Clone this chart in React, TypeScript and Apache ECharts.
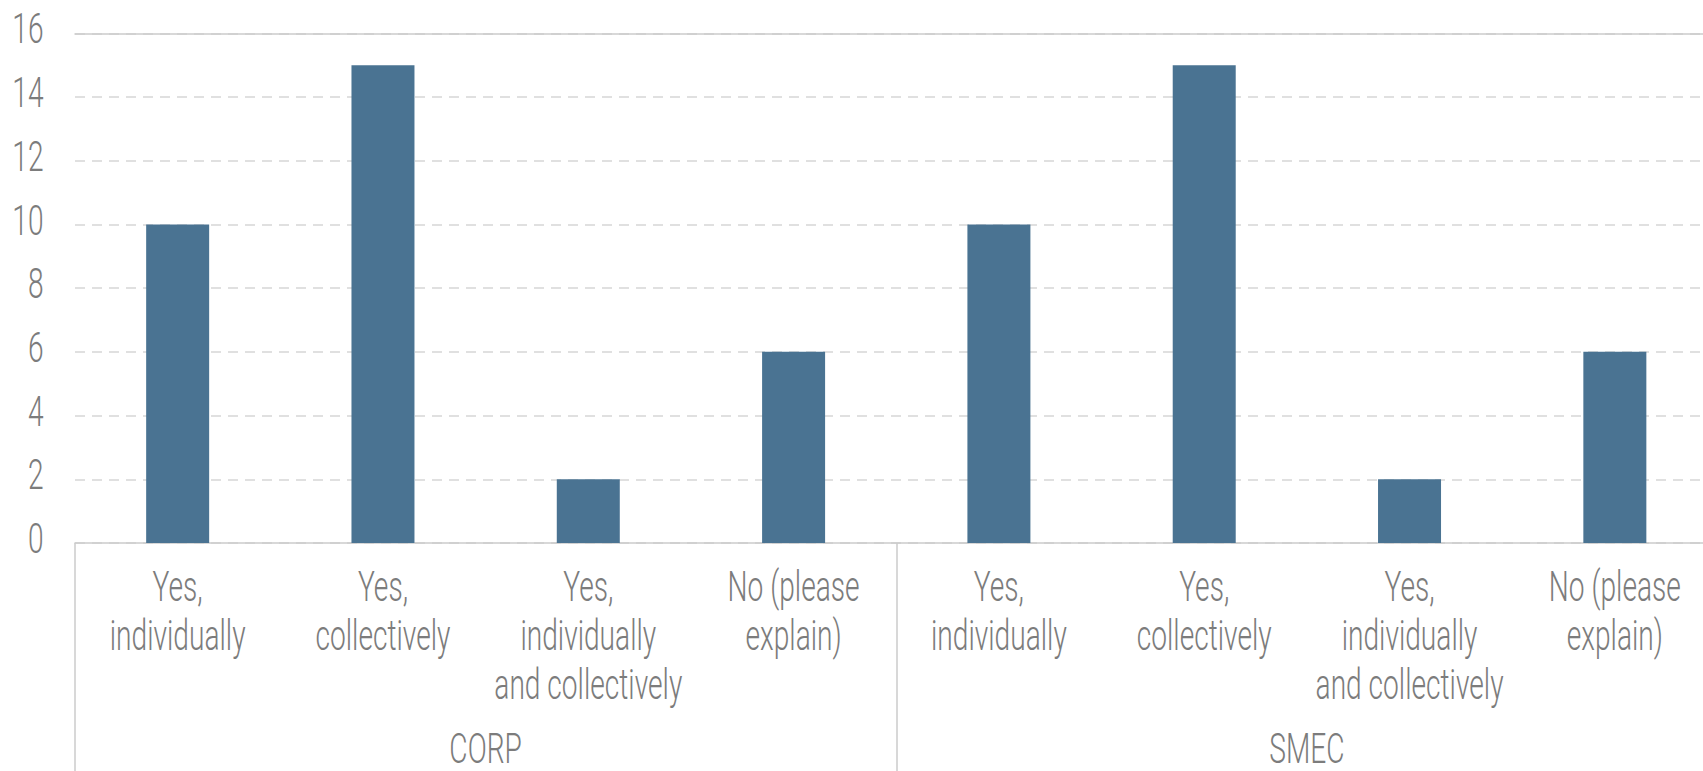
import React, { useEffect, useRef } from "react";
import * as echarts from "echarts";

const categories = [
  "Yes,\nindividually",
  "Yes,\ncollectively",
  "Yes,\nindividually\nand collectively",
  "No (please\nexplain)",
  "Yes,\nindividually",
  "Yes,\ncollectively",
  "Yes,\nindividually\nand collectively",
  "No (please\nexplain)",
];
const groups = ["CORP", "SMEC"];
const values = [10, 15, 2, 6, 10, 15, 2, 6];
const yTickLabels = ["0", "2", "4", "6", "8", "10", "12", "14", "16"];
const yMin = 0;
const yMax = 16;
const yInterval = 2;

const GRID_LEFT = 75;
const FONT = "Roboto";
const FONT_WEIGHT = 300;
const FONT_SIZE = 42;
const SQUEEZE = 0.67;
const TEXT = "#7c7c7c";
const LINE = "#cbcbcb";

export default function App() {
  const ref = useRef<HTMLDivElement>(null);
  useEffect(() => {
    if (!ref.current) return;
    const chart = echarts.init(ref.current, undefined, { renderer: "svg" });
    chart.setOption({
      animation: false,
      grid: { left: GRID_LEFT, top: 33.3, width: 1642.5, height: 509.7, containLabel: false },
      xAxis: [
        {
          type: "category",
          data: categories,
          position: "bottom",
          axisLine: { show: true, lineStyle: { color: LINE, width: 1.5 } },
          axisTick: { show: false },
          axisLabel: { show: false },
          splitLine: { show: false },
        },
        {
          type: "category",
          data: groups,
          position: "bottom",
          axisLine: { show: false },
          axisTick: { show: true, length: 260, lineStyle: { color: LINE, width: 1.5 } },
          axisLabel: { show: false },
          splitLine: { show: false },
        },
        {
          type: "category",
          data: [""],
          position: "top",
          axisLine: { show: true, lineStyle: { color: LINE, width: 1.5 } },
          axisTick: { show: false },
          axisLabel: { show: false },
        },
      ],
      yAxis: {
        type: "value",
        min: yMin,
        max: yMax,
        interval: yInterval,
        axisLine: { show: false },
        axisTick: { show: false },
        axisLabel: { show: false },
        splitLine: { show: true, lineStyle: { color: "#d6d6d6", width: 1.5, type: [10, 7] } },
      },
      series: [
        {
          type: "bar",
          xAxisIndex: 0,
          data: values,
          barWidth: 63,
          itemStyle: { color: "#4a7392" },
        },
      ],
    });

    const textStyle = {
      fill: TEXT,
      fontFamily: FONT,
      fontWeight: FONT_WEIGHT,
      fontSize: FONT_SIZE,
    };
    const zeroY = chart.convertToPixel({ yAxisIndex: 0 }, 0) as number;
    const graphics: any[] = [];
    yTickLabels.forEach((label) => {
      const y = chart.convertToPixel({ yAxisIndex: 0 }, Number(label)) as number;
      graphics.push({
        type: "text",
        x: GRID_LEFT - 31.5,
        y: y - 4,
        scaleX: SQUEEZE,
        silent: true,
        style: { ...textStyle, text: label, align: "right", verticalAlign: "middle" },
      });
    });
    categories.forEach((label, i) => {
      const x = chart.convertToPixel({ xAxisIndex: 0 }, i) as number;
      graphics.push({
        type: "text",
        x,
        y: zeroY + 19.5,
        scaleX: SQUEEZE,
        silent: true,
        style: { ...textStyle, text: label, align: "center", verticalAlign: "top", lineHeight: 49 },
      });
    });
    groups.forEach((label, i) => {
      const x = chart.convertToPixel({ xAxisIndex: 1 }, i) as number;
      graphics.push({
        type: "text",
        x,
        y: zeroY + 206,
        scaleX: SQUEEZE,
        silent: true,
        style: {
          ...textStyle,
          text: label,
          align: "center",
          verticalAlign: "middle",
          lineHeight: 30,
        },
      });
    });
    chart.setOption({ graphic: graphics });

    return () => chart.dispose();
  }, []);
  return (
    <div
      style={{
        position: "fixed",
        left: 0,
        top: 0,
        width: 1703,
        height: 771,
        overflow: "hidden",
        background: "#fff",
      }}
    >
      <div ref={ref} style={{ width: 1740, height: 771 }} />
    </div>
  );
}
